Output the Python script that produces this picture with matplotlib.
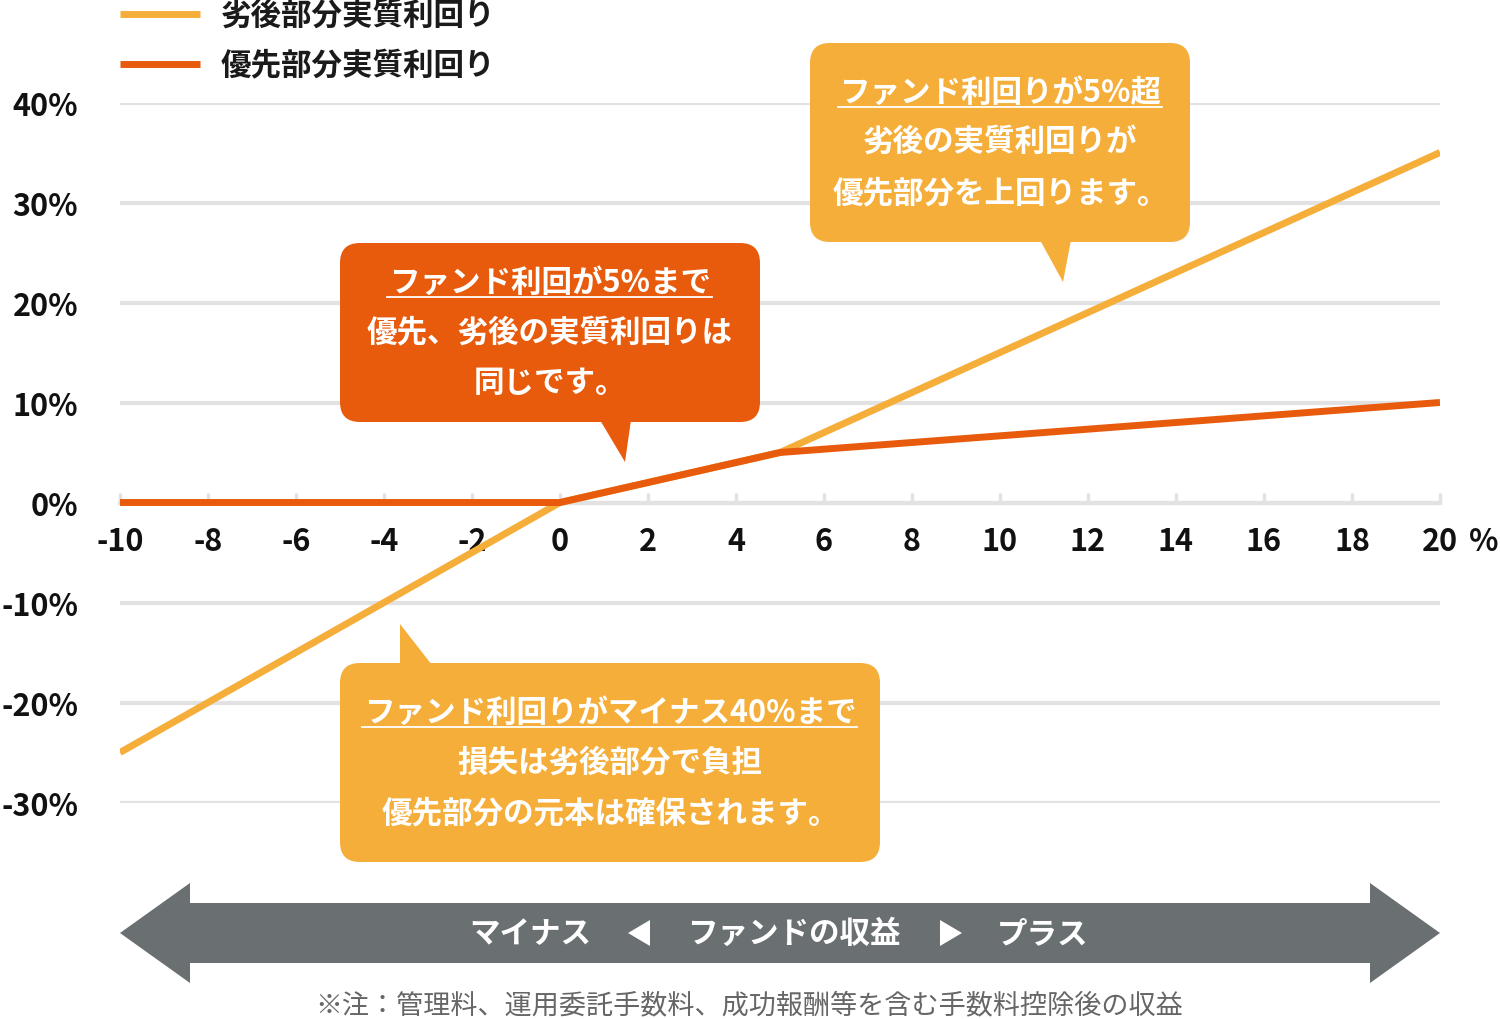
import matplotlib
matplotlib.use("Agg")
import matplotlib.pyplot as plt
from matplotlib.patches import FancyBboxPatch, Polygon

plt.rcParams['font.family'] = ['Noto Sans CJK JP', 'DejaVu Sans']

# ---- data ----
fund_return = [-10, 0, 5, 20]
subordinate_yield = [-25, 0, 5, 35]
senior_yield = [0, 0, 5, 10]
x_ticks = [-10, -8, -6, -4, -2, 0, 2, 4, 6, 8, 10, 12, 14, 16, 18, 20]
y_ticks = [-30, -20, -10, 0, 10, 20, 30, 40]
y_tick_labels = ["-30%", "-20%", "-10%", "0%", "10%", "20%", "30%", "40%"]
series_names = ["劣後部分実質利回り", "優先部分実質利回り"]
callout_senior = ["ファンド利回が5%まで", "優先、劣後の実質利回りは", "同じです。"]
callout_sub_up = ["ファンド利回りが5%超", "劣後の実質利回りが", "優先部分を上回ります。"]
callout_sub_down = ["ファンド利回りがマイナス40%まで", "損失は劣後部分で負担", "優先部分の元本は確保されます。"]
arrow_labels = ["マイナス", "ファンドの収益", "プラス"]
note = "※注：管理料、運用委託手数料、成功報酬等を含む手数料控除後の収益"

YELLOW = "#F5AE3A"
ORANGE = "#E85A0C"
GRID = "#E2E2E2"
GRAY = "#6A6F71"
W, H = 1500, 1020
FS = 22

fig = plt.figure(figsize=(15, 10.2), dpi=100)
ax = fig.add_axes([120 / W, (H - 803.5) / H, 1320 / W, 700 / H])
ax.set_xlim(-10, 20)
ax.set_ylim(-30, 40)
for s in ["top", "right", "left"]:
    ax.spines[s].set_visible(False)
ax.spines["bottom"].set_position(("data", 0))
ax.spines["bottom"].set_color(GRID)
ax.spines["bottom"].set_linewidth(3)
ax.set_xticks(x_ticks)
ax.set_xticklabels([str(v) for v in x_ticks])
ax.set_yticks(y_ticks)
ax.set_yticklabels(y_tick_labels)
ax.tick_params(axis="x", direction="in", length=7, width=2.5, color=GRID, pad=16,
               labelsize=FS, labelcolor="#111111")
ax.tick_params(axis="y", length=0, pad=30, labelsize=FS, labelcolor="#111111")
for lab in ax.get_xticklabels() + ax.get_yticklabels():
    lab.set_fontweight("bold")
ax.grid(axis="y", color=GRID, lw=3)
ax.grid(axis="x", visible=False)
ax.set_axisbelow(True)

ax.plot(fund_return, subordinate_yield, color=YELLOW, lw=5, solid_capstyle="butt", zorder=3)
ax.plot(fund_return, senior_yield, color=ORANGE, lw=5, solid_capstyle="butt", zorder=4)

# overlay in pixel coordinates
ov = fig.add_axes([0, 0, 1, 1], facecolor="none")
ov.set_xlim(0, W)
ov.set_ylim(H, 0)
ov.axis("off")

ov.text(1484, 542, "%", ha="center", va="center", fontsize=FS, fontweight="bold", color="#111111")

# legend
for yy, col, name in [(15, YELLOW, series_names[0]), (65, ORANGE, series_names[1])]:
    ov.plot([120, 200], [yy, yy], color=col, lw=5, solid_capstyle="butt")
    ov.text(221, yy + 1, name, ha="left", va="center", fontsize=FS, fontweight="bold", color="#1a1a1a")


def callout(x0, y0, x1, y1, color, tail, lines, cx, ys, ul):
    box = FancyBboxPatch((x0 + 20, y0 + 20), x1 - x0 - 40, y1 - y0 - 40,
                         boxstyle="round,pad=20,rounding_size=20",
                         fc=color, ec="none", zorder=5)
    ov.add_patch(box)
    ov.add_patch(Polygon(tail, closed=True, fc=color, ec="none", zorder=5))
    for t, yy in zip(lines, ys):
        ov.text(cx, yy, t, ha="center", va="center", fontsize=FS, fontweight="bold",
                color="white", zorder=6)
    ov.plot([ul[0], ul[1]], [ul[2], ul[2]], color="white", lw=1.3, zorder=6)


callout(340, 244, 760, 423, ORANGE, [(600, 421), (631, 421), (625, 463)],
        callout_senior, 550, [283, 333, 383], (387, 712, 298))
callout(810, 44, 1190, 243, YELLOW, [(1040, 241), (1071, 241), (1063, 283)],
        callout_sub_up, 1000, [93, 143, 193], (838, 1162, 108))
callout(340, 664, 880, 863, YELLOW, [(400, 625), (400, 666), (432, 666)],
        callout_sub_down, 610, [713, 763, 813], (362, 857, 728))

# bottom double arrow
ov.add_patch(Polygon([(120, 934), (190, 884), (190, 904), (1370, 904), (1370, 884),
                      (1440, 934), (1370, 984), (1370, 964), (190, 964), (190, 984)],
                     closed=True, fc=GRAY, ec="none"))
ov.text(530, 934, arrow_labels[0], ha="center", va="center", fontsize=FS, fontweight="bold", color="white")
ov.text(794, 934, arrow_labels[1], ha="center", va="center", fontsize=FS, fontweight="bold", color="white")
ov.text(1043, 934, arrow_labels[2], ha="center", va="center", fontsize=FS, fontweight="bold", color="white")
ov.add_patch(Polygon([(628, 934), (650, 921), (650, 947)], closed=True, fc="white", ec="none"))
ov.add_patch(Polygon([(962, 934), (940, 921), (940, 947)], closed=True, fc="white", ec="none"))

ov.text(749, 1006, note, ha="center", va="center", fontsize=19.5, color="#666666")

fig.savefig("out.png", dpi=100)
